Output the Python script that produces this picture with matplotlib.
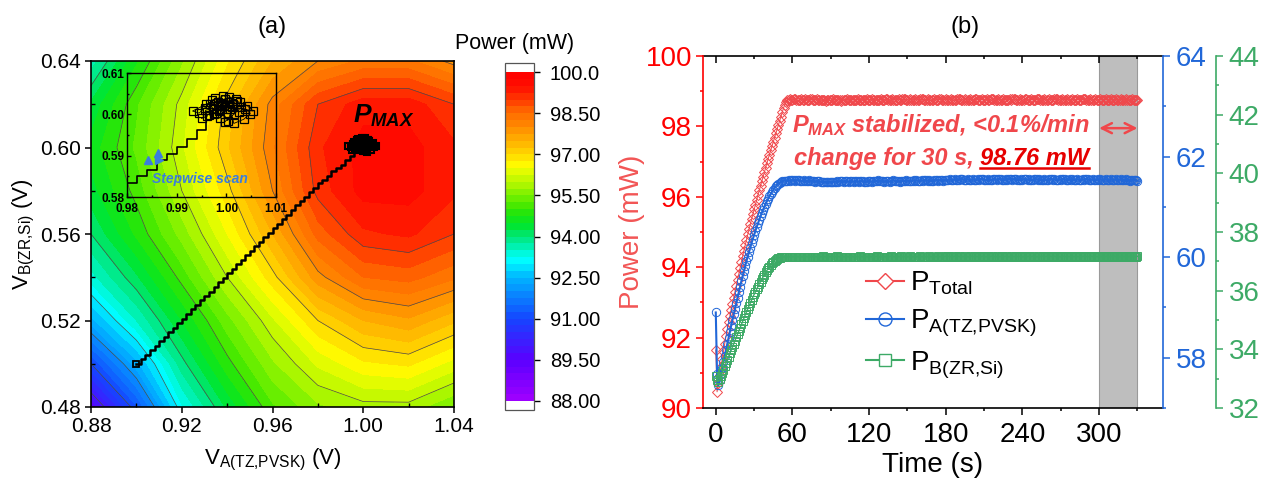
import numpy as np
import matplotlib
matplotlib.use('Agg')
import matplotlib.pyplot as plt
from matplotlib.colors import LinearSegmentedColormap
from matplotlib.lines import Line2D
from matplotlib.ticker import MultipleLocator, FormatStrFormatter, FixedLocator

plt.rcParams['font.family'] = 'Liberation Sans'
plt.rcParams['mathtext.fontset'] = 'custom'
plt.rcParams['mathtext.rm'] = 'Liberation Sans'
plt.rcParams['mathtext.it'] = 'Liberation Sans:italic:bold'
plt.rcParams['mathtext.bf'] = 'Liberation Sans:bold'

# ---------------- (a) power map vs. the two bias voltages ----------------
volt_a = [0.88, 0.90, 0.92, 0.94, 0.96, 0.98, 1.00, 1.02, 1.04]
volt_b = [0.48, 0.50, 0.52, 0.54, 0.56, 0.58, 0.60, 0.62, 0.64]
# rows follow volt_b, columns follow volt_a (mW)
power_map = [
    [89.5, 91.2, 93.2, 94.3, 95.2, 95.7, 95.9, 95.9, 95.5],
    [91.0, 92.4, 93.9, 94.9, 95.7, 96.3, 96.7, 96.8, 96.4],
    [92.4, 93.5, 94.5, 95.4, 96.2, 97.0, 97.5, 97.7, 97.3],
    [93.4, 94.2, 95.1, 96.0, 96.9, 97.9, 98.5, 98.6, 98.3],
    [94.0, 94.8, 95.6, 96.5, 97.5, 98.6, 99.2, 99.3, 99.0],
    [94.4, 95.1, 96.0, 96.9, 98.0, 99.1, 99.6, 99.6, 99.3],
    [94.6, 95.3, 96.2, 97.2, 98.2, 99.2, 99.6, 99.6, 99.3],
    [94.3, 95.2, 96.1, 97.1, 98.1, 99.0, 99.4, 99.4, 99.0],
    [93.6, 94.7, 95.7, 96.7, 97.5, 98.0, 98.3, 98.3, 97.9],
]

# stepwise scan (V_A, V_B)
scan_x = [0.900, 0.902, 0.904, 0.906, 0.908, 0.910, 0.912, 0.914, 0.916, 0.918,
          0.920, 0.922, 0.924, 0.926, 0.928, 0.930, 0.932, 0.934, 0.936, 0.938,
          0.940, 0.942, 0.944, 0.946, 0.948, 0.950, 0.952, 0.954, 0.956, 0.958,
          0.960, 0.962, 0.964, 0.966, 0.968, 0.970, 0.972, 0.974, 0.976, 0.978,
          0.980, 0.982, 0.984, 0.986, 0.988, 0.990, 0.992, 0.994, 0.996]
scan_y = [0.5000, 0.5021, 0.5042, 0.5063, 0.5084, 0.5105, 0.5125, 0.5146, 0.5167, 0.5188,
          0.5209, 0.5230, 0.5251, 0.5272, 0.5293, 0.5314, 0.5334, 0.5355, 0.5376, 0.5397,
          0.5418, 0.5439, 0.5460, 0.5481, 0.5502, 0.5523, 0.5543, 0.5564, 0.5585, 0.5606,
          0.5627, 0.5648, 0.5669, 0.5690, 0.5711, 0.5732, 0.5752, 0.5773, 0.5794, 0.5815,
          0.5835, 0.5851, 0.5866, 0.5890, 0.5904, 0.5921, 0.5940, 0.5962, 0.5982]

# tracking around the maximum
track_x = [0.9950, 0.9962, 0.9958, 0.9973, 0.9968, 0.9984, 0.9992, 0.9979, 0.9998, 1.0006,
           0.9987, 1.0002, 1.0014, 1.0006, 1.0021, 1.0030, 1.0016, 0.9997, 0.9991, 0.9972,
           0.9966, 0.9985, 1.0005, 1.0025, 1.0038, 1.0048, 1.0035, 1.0015, 1.0008, 0.9990,
           0.9978, 0.9957, 0.9945, 0.9932, 0.9994, 1.0027, 1.0042, 1.0054, 1.0011, 0.9987,
           1.0003, 1.0019, 0.9975, 0.9960]
track_y = [0.5990, 0.5996, 0.6010, 0.6014, 0.6024, 0.6030, 0.6019, 0.6004, 0.6038, 0.6031,
           0.5990, 0.6012, 0.6026, 0.6043, 0.6033, 0.6017, 0.6001, 0.5982, 0.6023, 0.6035,
           0.5998, 0.6009, 0.6020, 0.6006, 0.6014, 0.6002, 0.5988, 0.5978, 0.6013, 0.6027,
           0.6040, 0.6016, 0.6003, 0.6008, 0.6045, 0.6029, 0.6021, 0.6008, 0.6018, 0.6013,
           0.5985, 0.6036, 0.6001, 0.6024]

step_marks_x = [0.9843, 0.9863]
step_marks_y = [0.5890, 0.5907]
step_turn_x = [0.9865]
step_turn_y = [0.5890]

cbar_ticks = [88.0, 89.5, 91.0, 92.5, 94.0, 95.5, 97.0, 98.5, 100.0]
cbar_labels = ['88.00', '89.50', '91.00', '92.50', '94.00', '95.50', '97.00', '98.50', '100.0']

# ---------------- (b) power vs time (1 s sampling) ----------------
p_total_ramp = [91.65, 90.46, 90.70, 90.93, 91.16, 91.39, 91.61, 91.83, 92.04, 92.24,
                92.43, 92.61, 92.79, 92.96, 93.13, 93.30, 93.46, 93.63, 93.80, 93.97,
                94.14, 94.31, 94.47, 94.63, 94.78, 94.93, 95.08, 95.22, 95.36, 95.50,
                95.64, 95.78, 95.92, 96.05, 96.18, 96.31, 96.44, 96.57, 96.70, 96.83,
                96.96, 97.08, 97.20, 97.32, 97.44, 97.56, 97.68, 97.80, 97.92, 98.04,
                98.16, 98.28, 98.40, 98.52, 98.62, 98.70]
p_total_hold = [
    98.75, 98.76, 98.77, 98.76, 98.75, 98.77, 98.78, 98.76, 98.75, 98.74, 98.76, 98.77, 98.76, 98.75, 98.77, 98.76, 98.74, 98.75, 98.77, 98.78, 98.76, 98.75, 98.76, 98.77, 98.75,
    98.74, 98.75, 98.76, 98.75, 98.74, 98.73, 98.75, 98.76, 98.75, 98.74, 98.76, 98.77, 98.75, 98.74, 98.75, 98.76, 98.75, 98.73, 98.74, 98.76, 98.75, 98.76, 98.77, 98.75, 98.74,
    98.75, 98.76, 98.75, 98.74, 98.76, 98.77, 98.76, 98.75, 98.76, 98.75, 98.74, 98.75, 98.77, 98.76, 98.75, 98.76, 98.77, 98.76, 98.75, 98.74, 98.76, 98.75, 98.76, 98.77, 98.76,
    98.75, 98.76, 98.77, 98.78, 98.76, 98.75, 98.76, 98.77, 98.76, 98.75, 98.74, 98.76, 98.77, 98.76, 98.75, 98.77, 98.78, 98.77, 98.76, 98.75, 98.76, 98.77, 98.76, 98.75, 98.76,
    98.77, 98.76, 98.75, 98.76, 98.77, 98.78, 98.77, 98.76, 98.75, 98.76, 98.77, 98.76, 98.75, 98.74, 98.76, 98.77, 98.76, 98.75, 98.76, 98.77, 98.78, 98.76, 98.75, 98.76, 98.77,
    98.76, 98.75, 98.76, 98.77, 98.76, 98.75, 98.74, 98.76, 98.77, 98.78, 98.77, 98.76, 98.75, 98.76, 98.77, 98.76, 98.75, 98.76, 98.77, 98.76, 98.75, 98.76, 98.77, 98.78, 98.76,
    98.75, 98.76, 98.77, 98.76, 98.75, 98.76, 98.77, 98.76, 98.75, 98.77, 98.78, 98.77, 98.76, 98.75, 98.76, 98.77, 98.76, 98.75, 98.76, 98.77, 98.76, 98.75, 98.74, 98.76, 98.77,
    98.76, 98.77, 98.78, 98.77, 98.76, 98.75, 98.76, 98.77, 98.76, 98.75, 98.76, 98.77, 98.78, 98.76, 98.75, 98.76, 98.77, 98.76, 98.75, 98.76, 98.77, 98.78, 98.77, 98.76, 98.75,
    98.76, 98.77, 98.76, 98.75, 98.76, 98.77, 98.76, 98.75, 98.76, 98.77, 98.78, 98.77, 98.76, 98.75, 98.76, 98.77, 98.76, 98.75, 98.76, 98.77, 98.76, 98.75, 98.76, 98.77, 98.76,
    98.75, 98.76, 98.77, 98.76, 98.75, 98.76, 98.77, 98.78, 98.77, 98.76, 98.75, 98.76, 98.77, 98.76, 98.75, 98.76, 98.77, 98.76, 98.75, 98.76, 98.77, 98.76, 98.75, 98.76, 98.77,
    98.76, 98.75, 98.76, 98.77, 98.76, 98.75, 98.76, 98.77, 98.76, 98.75, 98.76, 98.77, 98.76, 98.75, 98.76, 98.77, 98.76, 98.76, 98.75, 98.76, 98.77, 98.76, 98.75, 98.76, 98.76,
]

p_a_ramp = [58.90, 57.68, 57.45, 57.56, 57.68, 57.80, 57.92, 58.04, 58.16, 58.28,
            58.40, 58.52, 58.64, 58.75, 58.86, 58.97, 59.08, 59.19, 59.30, 59.41,
            59.52, 59.62, 59.72, 59.82, 59.92, 60.01, 60.10, 60.19, 60.28, 60.36,
            60.44, 60.52, 60.60, 60.67, 60.74, 60.81, 60.88, 60.94, 61.00, 61.06,
            61.11, 61.16, 61.21, 61.26, 61.30, 61.34, 61.38, 61.41, 61.44, 61.46,
            61.48, 61.50, 61.51, 61.52, 61.52, 61.52]
p_a_hold = [
    61.52, 61.53, 61.52, 61.53, 61.54, 61.53, 61.52, 61.53, 61.54, 61.53, 61.52, 61.51, 61.52, 61.53, 61.52, 61.51, 61.52, 61.53, 61.52, 61.51, 61.52, 61.51, 61.50, 61.51, 61.52,
    61.51, 61.50, 61.50, 61.49, 61.49, 61.50, 61.49, 61.50, 61.50, 61.49, 61.49, 61.50, 61.50, 61.50, 61.51, 61.50, 61.51, 61.52, 61.51, 61.50, 61.51, 61.52, 61.51, 61.50, 61.51,
    61.52, 61.51, 61.50, 61.51, 61.52, 61.51, 61.50, 61.51, 61.52, 61.51, 61.50, 61.50, 61.50, 61.51, 61.52, 61.51, 61.50, 61.51, 61.52, 61.51, 61.52, 61.53, 61.52, 61.51, 61.52,
    61.51, 61.50, 61.51, 61.52, 61.51, 61.50, 61.51, 61.52, 61.53, 61.52, 61.51, 61.52, 61.51, 61.50, 61.51, 61.52, 61.51, 61.52, 61.53, 61.52, 61.51, 61.52, 61.51, 61.52, 61.53,
    61.52, 61.53, 61.52, 61.51, 61.52, 61.53, 61.52, 61.53, 61.54, 61.53, 61.52, 61.53, 61.52, 61.51, 61.52, 61.53, 61.54, 61.53, 61.52, 61.53, 61.54, 61.53, 61.52, 61.53, 61.54,
    61.53, 61.54, 61.55, 61.54, 61.53, 61.54, 61.55, 61.54, 61.53, 61.54, 61.55, 61.56, 61.55, 61.54, 61.53, 61.54, 61.55, 61.54, 61.53, 61.54, 61.55, 61.54, 61.53, 61.54, 61.55,
    61.54, 61.55, 61.56, 61.55, 61.54, 61.53, 61.54, 61.55, 61.54, 61.53, 61.54, 61.55, 61.56, 61.55, 61.54, 61.55, 61.56, 61.55, 61.54, 61.53, 61.54, 61.55, 61.54, 61.55, 61.56,
    61.55, 61.54, 61.55, 61.56, 61.55, 61.54, 61.53, 61.54, 61.55, 61.54, 61.55, 61.56, 61.55, 61.54, 61.55, 61.54, 61.53, 61.54, 61.55, 61.56, 61.55, 61.54, 61.55, 61.54, 61.53,
    61.54, 61.55, 61.54, 61.53, 61.54, 61.55, 61.56, 61.55, 61.54, 61.55, 61.54, 61.53, 61.54, 61.55, 61.54, 61.55, 61.56, 61.55, 61.54, 61.53, 61.54, 61.55, 61.54, 61.55, 61.54,
    61.53, 61.54, 61.55, 61.54, 61.53, 61.54, 61.55, 61.54, 61.55, 61.56, 61.55, 61.54, 61.53, 61.54, 61.55, 61.54, 61.53, 61.54, 61.55, 61.54, 61.55, 61.54, 61.53, 61.54, 61.55,
    61.54, 61.53, 61.54, 61.55, 61.54, 61.53, 61.54, 61.55, 61.54, 61.53, 61.54, 61.55, 61.54, 61.53, 61.54, 61.55, 61.54, 61.53, 61.52, 61.53, 61.54, 61.53, 61.54, 61.53, 61.52,
]

p_b_ramp = [33.10, 32.95, 32.90, 33.00, 33.10, 33.20, 33.31, 33.42, 33.53, 33.64,
            33.75, 33.86, 33.97, 34.08, 34.19, 34.30, 34.41, 34.52, 34.63, 34.74,
            34.85, 34.96, 35.07, 35.18, 35.28, 35.38, 35.48, 35.58, 35.68, 35.78,
            35.87, 35.96, 36.05, 36.14, 36.23, 36.31, 36.39, 36.47, 36.55, 36.62,
            36.69, 36.76, 36.82, 36.88, 36.93, 36.98, 37.02, 37.06, 37.09, 37.11,
            37.13, 37.14, 37.15, 37.15, 37.15, 37.15]
p_b_hold = [
    37.15, 37.16, 37.15, 37.16, 37.15, 37.16, 37.16, 37.15, 37.16, 37.15, 37.16, 37.15, 37.15, 37.16, 37.15, 37.16, 37.15, 37.16, 37.15, 37.16, 37.15, 37.15, 37.16, 37.15, 37.16,
    37.16, 37.15, 37.16, 37.17, 37.16, 37.15, 37.16, 37.15, 37.16, 37.16, 37.15, 37.16, 37.15, 37.16, 37.17, 37.16, 37.15, 37.16, 37.15, 37.16, 37.15, 37.16, 37.16, 37.15, 37.16,
    37.15, 37.16, 37.15, 37.16, 37.16, 37.15, 37.16, 37.17, 37.16, 37.15, 37.16, 37.15, 37.16, 37.15, 37.16, 37.16, 37.15, 37.16, 37.15, 37.16, 37.17, 37.16, 37.15, 37.16, 37.15,
    37.16, 37.16, 37.15, 37.16, 37.15, 37.16, 37.17, 37.16, 37.16, 37.15, 37.16, 37.15, 37.16, 37.16, 37.17, 37.16, 37.15, 37.16, 37.16, 37.15, 37.16, 37.17, 37.16, 37.15, 37.16,
    37.16, 37.15, 37.16, 37.16, 37.17, 37.16, 37.15, 37.16, 37.15, 37.16, 37.16, 37.17, 37.16, 37.15, 37.16, 37.16, 37.15, 37.16, 37.17, 37.16, 37.16, 37.15, 37.16, 37.16, 37.17,
    37.16, 37.17, 37.16, 37.16, 37.15, 37.16, 37.17, 37.16, 37.16, 37.17, 37.16, 37.15, 37.16, 37.16, 37.17, 37.16, 37.16, 37.15, 37.16, 37.17, 37.16, 37.16, 37.17, 37.16, 37.16,
    37.17, 37.16, 37.16, 37.17, 37.16, 37.15, 37.16, 37.17, 37.16, 37.16, 37.17, 37.16, 37.16, 37.15, 37.16, 37.17, 37.16, 37.16, 37.17, 37.16, 37.16, 37.17, 37.16, 37.15, 37.16,
    37.16, 37.17, 37.16, 37.16, 37.17, 37.16, 37.16, 37.17, 37.16, 37.15, 37.16, 37.17, 37.16, 37.16, 37.17, 37.16, 37.16, 37.17, 37.16, 37.16, 37.15, 37.16, 37.17, 37.16, 37.16,
    37.17, 37.16, 37.16, 37.17, 37.16, 37.16, 37.17, 37.16, 37.16, 37.17, 37.16, 37.16, 37.17, 37.16, 37.15, 37.16, 37.17, 37.16, 37.16, 37.17, 37.16, 37.16, 37.17, 37.16, 37.16,
    37.16, 37.17, 37.16, 37.16, 37.17, 37.16, 37.16, 37.17, 37.16, 37.16, 37.17, 37.16, 37.16, 37.17, 37.16, 37.16, 37.17, 37.16, 37.16, 37.17, 37.16, 37.16, 37.17, 37.16, 37.16,
    37.17, 37.16, 37.16, 37.17, 37.16, 37.16, 37.17, 37.16, 37.16, 37.17, 37.16, 37.16, 37.17, 37.16, 37.16, 37.17, 37.16, 37.16, 37.17, 37.16, 37.16, 37.17, 37.16, 37.16, 37.17,
]

p_total = np.array(p_total_ramp + p_total_hold)
p_a = np.array(p_a_ramp + p_a_hold)
p_b = np.array(p_b_ramp + p_b_hold)

hold_window = (300, 330)   # s
p_max_value = 98.76        # mW

RED = '#f0474b'
RED_TXT = '#ff0000'
BLUE = '#2167d8'
GREEN = '#3daa66'

W, H = 1261, 492
fig = plt.figure(figsize=(W / 100, H / 100), dpi=100)


def px_box(x0, y0, x1, y1):
    return [x0 / W, 1 - y1 / H, (x1 - x0) / W, (y1 - y0) / H]


# ======================= panel (a) =======================
cmap = LinearSegmentedColormap.from_list('origin_rainbow', [
    (0.000, '#a000ff'), (0.125, '#5a00ff'), (0.250, '#1446ff'), (0.375, '#00b4ff'),
    (0.430, '#00ffff'), (0.500, '#00e678'), (0.540, '#00e628'), (0.583, '#32e600'),
    (0.625, '#78f000'), (0.717, '#ffff00'), (0.750, '#ffd700'), (0.792, '#ffb400'),
    (0.833, '#ff8c00'), (0.875, '#ff6e00'), (0.917, '#ff3c00'), (0.955, '#ff1000'),
    (1.000, '#ff0000')])
cmap.set_over('white')
cmap.set_under('white')

ax = fig.add_axes(px_box(91, 61, 454, 407))
cf = ax.contourf(volt_a, volt_b, power_map, levels=np.arange(88, 100.01, 0.25),
                 cmap=cmap, extend='both')
ax.contour(volt_a, volt_b, power_map, levels=np.arange(89, 100, 1.0),
           colors='#4a4a4a', linewidths=0.5)
ax.step(scan_x, scan_y, where='post', color='k', lw=1.8, zorder=5)
ax.plot(scan_x[:1], scan_y[:1], 's', mfc='none', mec='k', ms=4, mew=1.3, zorder=5)
ax.plot(track_x, track_y, 's-', color='k', mfc='none', mec='k', ms=5, mew=1.5, lw=1, zorder=5)
ax.text(0.9955, 0.6113, r'$P_{MAX}$', fontsize=19, color='k', ha='left', va='baseline', zorder=6)

ax.set_xlim(0.88, 1.04)
ax.set_ylim(0.48, 0.64)
ax.xaxis.set_major_locator(MultipleLocator(0.04))
ax.xaxis.set_minor_locator(MultipleLocator(0.02))
ax.yaxis.set_major_locator(MultipleLocator(0.04))
ax.yaxis.set_minor_locator(MultipleLocator(0.02))
ax.xaxis.set_major_formatter(FormatStrFormatter('%.2f'))
ax.yaxis.set_major_formatter(FormatStrFormatter('%.2f'))
ax.tick_params(which='major', direction='out', length=4.5, width=1.1, labelsize=15, pad=3)
ax.tick_params(which='minor', direction='in', length=3, width=1)
for s in ax.spines.values():
    s.set_linewidth(1.2)
ax.set_xlabel(r'V$_{\mathrm{A(TZ{,}PVSK)}}$ (V)', fontsize=16)
ax.set_ylabel(r'V$_{\mathrm{B(ZR{,}Si)}}$ (V)', fontsize=16)
ax.xaxis.set_label_coords(0.5, -0.115)
ax.yaxis.set_label_coords(-0.148, 0.5)

# zoomed inset of the stepwise scan
ins = fig.add_axes(px_box(127, 73, 276, 197))
ins.set_facecolor('none')
ins.step(scan_x, scan_y, where='post', color='k', lw=1.2)
ins.plot(track_x, track_y, 's-', color='k', mfc='none', mec='k', ms=6, mew=0.9, lw=0.6)
ins.plot(step_marks_x, step_marks_y, '^', color='#3b7ddd', ms=5.5)
ins.plot(step_turn_x, step_turn_y, '>', color='#3b7ddd', ms=5.5)
ins.text(0.985, 0.5834, 'Stepwise scan', color='#3b7ddd', fontsize=10,
         fontweight='bold', fontstyle='italic', ha='left', va='baseline')
ins.set_xlim(0.98, 1.01)
ins.set_ylim(0.58, 0.61)
ins.xaxis.set_major_locator(MultipleLocator(0.01))
ins.yaxis.set_major_locator(MultipleLocator(0.01))
ins.xaxis.set_minor_locator(MultipleLocator(0.005))
ins.yaxis.set_minor_locator(MultipleLocator(0.005))
ins.xaxis.set_major_formatter(FormatStrFormatter('%.2f'))
ins.yaxis.set_major_formatter(FormatStrFormatter('%.2f'))
ins.tick_params(which='both', direction='in', width=1, labelsize=8.5)
ins.tick_params(axis='x', pad=4)
ins.tick_params(axis='y', pad=2)
ins.tick_params(which='major', length=3)
ins.tick_params(which='minor', length=1.5)
for lab in ins.get_xticklabels() + ins.get_yticklabels():
    lab.set_fontweight('bold')
for s in ins.spines.values():
    s.set_linewidth(1)

# colour scale
cax = fig.add_axes(px_box(505, 63, 534, 410))
cb = fig.colorbar(cf, cax=cax, extendrect=True, extendfrac=0.028)
cb.set_ticks(cbar_ticks)
cb.set_ticklabels(cbar_labels)
cb.ax.tick_params(labelsize=14.5, length=4.5, width=1, pad=7)
cb.ax.minorticks_off()
cb.outline.set_edgecolor('#555555')
cb.outline.set_linewidth(0.9)
fig.text(515 / W, 1 - 43 / H, 'Power (mW)', fontsize=15.5, ha='center', va='center')

fig.text(272 / W, 1 - 27 / H, '(a)', fontsize=17, ha='center', va='center')

# ======================= panel (b) =======================
axr = fig.add_axes(px_box(703, 56, 1163, 408))
axb = axr.twinx()
axg = axr.twinx()
axg.spines['right'].set_position(('axes', 1.115))

axr.axvspan(*hold_window, facecolor='#bebebe', edgecolor='#9a9a9a', lw=0.8, zorder=0)

t_total = np.arange(len(p_total))
t_a = np.arange(len(p_a))
t_b = np.arange(len(p_b))
axr.plot(t_total, p_total, '-D', color=RED, lw=0.7, ms=5.4, mfc='none', mew=0.7, zorder=3)
axb.plot(t_a, p_a, '-o', color=BLUE, lw=1.5, ms=6.0, mfc='none', mew=0.7, zorder=3)
axg.plot(t_b, p_b, '-s', color=GREEN, lw=1.0, ms=5.4, mfc='none', mew=0.7, zorder=3)

axr.set_xlim(-10, 350)
axr.set_ylim(90, 100)
axb.set_ylim(57, 64)
axg.set_ylim(32, 44)
axr.xaxis.set_major_locator(MultipleLocator(60))
axr.xaxis.set_minor_locator(MultipleLocator(30))
axr.yaxis.set_major_locator(MultipleLocator(2))
axr.yaxis.set_minor_locator(MultipleLocator(1))
axb.yaxis.set_major_locator(FixedLocator([58, 60, 62, 64]))
axb.yaxis.set_minor_locator(FixedLocator([57, 59, 61, 63]))
axg.yaxis.set_major_locator(MultipleLocator(2))
axg.yaxis.set_minor_locator(MultipleLocator(1))

for a in (axb, axg):
    for side in ('left', 'top', 'bottom'):
        a.spines[side].set_visible(False)
axr.spines['right'].set_visible(False)
axr.spines['top'].set_visible(False)
axr.spines['left'].set_color(RED_TXT)
axb.spines['right'].set_color(BLUE)
axg.spines['right'].set_color(GREEN)
for a, side in ((axr, 'left'), (axr, 'bottom'), (axb, 'right'), (axg, 'right')):
    a.spines[side].set_linewidth(1.2)

axr.tick_params(axis='x', which='major', direction='out', length=5, width=1.1, labelsize=20, pad=5)
axr.tick_params(axis='x', which='minor', direction='out', length=2.5, width=1.1)
axr.tick_params(axis='y', which='major', direction='out', length=5, width=1.1,
                labelsize=20, colors=RED_TXT, pad=3)
axr.tick_params(axis='y', which='minor', direction='out', length=2.5, width=1.1, colors=RED_TXT)
axb.tick_params(axis='y', which='major', direction='out', length=5, width=1.1,
                labelsize=20, colors=BLUE, pad=4)
axb.tick_params(axis='y', which='minor', direction='out', length=2.5, width=1.1, colors=BLUE)
axg.tick_params(axis='y', which='major', direction='out', length=5, width=1.1,
                labelsize=20, colors=GREEN, pad=4)
axg.tick_params(axis='y', which='minor', direction='out', length=2.5, width=1.1, colors=GREEN)

top = axr.secondary_xaxis('top')
top.xaxis.set_major_locator(MultipleLocator(60))
top.xaxis.set_minor_locator(MultipleLocator(30))
top.tick_params(which='major', direction='in', length=5, width=1.1, labeltop=False)
top.tick_params(which='minor', direction='in', length=2.5, width=1.1)
top.spines['top'].set_linewidth(1.2)

axr.set_xlabel('Time (s)', fontsize=20)
axr.xaxis.set_label_coords(0.5, -0.125)
axr.set_ylabel('Power (mW)', fontsize=20, color='#f25555')
axr.yaxis.set_label_coords(-0.127, 0.5)

# stabilisation note
axr.text(60, 98.04, r'$P_{MAX}$ stabilized, <0.1%/min', color=RED, fontsize=17,
         fontweight='bold', fontstyle='italic', ha='left', va='center', zorder=6)
t_line2 = axr.text(61, 97.10, 'change for 30 s, ', color=RED, fontsize=17,
                   fontweight='bold', fontstyle='italic', ha='left', va='center', zorder=6)
t_val = axr.annotate(f'{p_max_value:.2f} mW', xy=(1, 0), xycoords=t_line2, va='bottom',
                     ha='left', color='#e60000', fontsize=17, fontweight='bold',
                     fontstyle='italic', zorder=6)
axr.annotate('', xy=(hold_window[0], 97.95), xytext=(hold_window[1], 97.95),
             arrowprops=dict(arrowstyle='<->', color=RED, lw=1.8, mutation_scale=18,
                             shrinkA=0, shrinkB=0), zorder=6)

handles = [
    Line2D([], [], color=RED, marker='D', ms=8.6, mfc='white', mew=1.0, lw=1.5),
    Line2D([], [], color=BLUE, marker='o', ms=9.4, mfc='none', mew=1.0, lw=1.5),
    Line2D([], [], color=GREEN, marker='s', ms=8.6, mfc='white', mew=1.0, lw=1.5),
]
labels = [r'P$_{\mathrm{Total}}$', r'P$_{\mathrm{A(TZ{,}PVSK)}}$', r'P$_{\mathrm{B(ZR{,}Si)}}$']
axg.legend(handles, labels, loc='center left', bbox_to_anchor=(866 / W, 1 - 325 / H),
           bbox_transform=fig.transFigure, frameon=False, fontsize=20,
           handlelength=1.35, handletextpad=0.25, labelspacing=0.38,
           borderpad=0, borderaxespad=0)

fig.text(965 / W, 1 - 27 / H, '(b)', fontsize=17, ha='center', va='center')

# underline the stabilised value
fig.canvas.draw()
bb = t_val.get_window_extent()
fig.add_artist(Line2D([bb.x0 / W, bb.x1 / W], [(bb.y0 + 2) / H] * 2,
                      transform=fig.transFigure, color='#e60000', lw=1.8))

fig.savefig('out.png', dpi=100)
